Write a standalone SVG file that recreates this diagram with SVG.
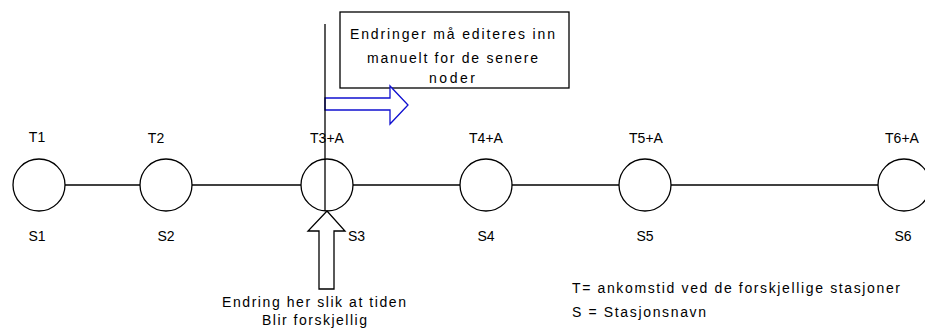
<svg xmlns="http://www.w3.org/2000/svg" width="925" height="330" viewBox="0 0 925 330">
<style>
text{font-family:"Liberation Sans",Arial,sans-serif;font-size:14px;fill:#000}
.c{text-anchor:middle}
.st{fill:#fff;stroke:#000;stroke-width:1.3}
.ln{stroke:#000;stroke-width:1.3;fill:none}
</style>
<rect width="925" height="330" fill="#fff"/>
<g id="connectors">
<line class="ln" x1="65" y1="185" x2="140" y2="185"/>
<line class="ln" x1="192" y1="185" x2="301" y2="185"/>
<line class="ln" x1="353" y1="185" x2="460" y2="185"/>
<line class="ln" x1="512" y1="185" x2="619" y2="185"/>
<line class="ln" x1="671" y1="185" x2="878" y2="185"/>
</g>
<g id="s1"><circle class="st" cx="39" cy="185" r="26"/><text class="c" x="37" y="142">T1</text><text class="c" x="37" y="241">S1</text></g>
<g id="s2"><circle class="st" cx="166" cy="185" r="26"/><text class="c" x="156" y="143">T2</text><text class="c" x="166" y="241">S2</text></g>
<g id="s3"><circle class="st" cx="327" cy="185" r="26"/><text class="c" x="327" y="143">T3+A</text><text x="348" y="241">S3</text></g>
<g id="s4"><circle class="st" cx="486" cy="185" r="26"/><text class="c" x="486" y="143">T4+A</text><text class="c" x="486" y="241">S4</text></g>
<g id="s5"><circle class="st" cx="645" cy="185" r="26"/><text class="c" x="646" y="143">T5+A</text><text class="c" x="645" y="241">S5</text></g>
<g id="s6"><circle class="st" cx="904" cy="185" r="26"/><text class="c" x="902" y="143">T6+A</text><text class="c" x="903" y="241">S6</text></g>
<g id="note">
<rect x="340" y="12" width="229" height="76" fill="#fff" stroke="#000" stroke-width="1.3"/>
<text x="350" y="39" textLength="205" lengthAdjust="spacing">Endringer må editeres inn</text>
<text x="367" y="63" textLength="171" lengthAdjust="spacing">manuelt for de senere</text>
<text x="429" y="83" textLength="46" lengthAdjust="spacing">noder</text>
</g>
<g id="change-marker">
<polygon points="325,98 390,98 390,86 408,105 390,124 390,110 325,110" fill="#fff" stroke="#1010d0" stroke-width="1.3"/>
<line class="ln" x1="325" y1="24" x2="325" y2="211"/>
<polygon points="327,211 345,231 334,231 334,289 319,289 319,231 308,231" fill="#fff" stroke="#000" stroke-width="1.3"/>
<text x="222" y="307" textLength="184" lengthAdjust="spacing">Endring her slik at tiden</text>
<text x="262" y="325" textLength="105" lengthAdjust="spacing">Blir forskjellig</text>
</g>
<g id="legend">
<text x="572" y="293" textLength="328" lengthAdjust="spacing">T= ankomstid ved de forskjellige stasjoner</text>
<text x="572" y="317" textLength="134" lengthAdjust="spacing">S = Stasjonsnavn</text>
</g>
</svg>
